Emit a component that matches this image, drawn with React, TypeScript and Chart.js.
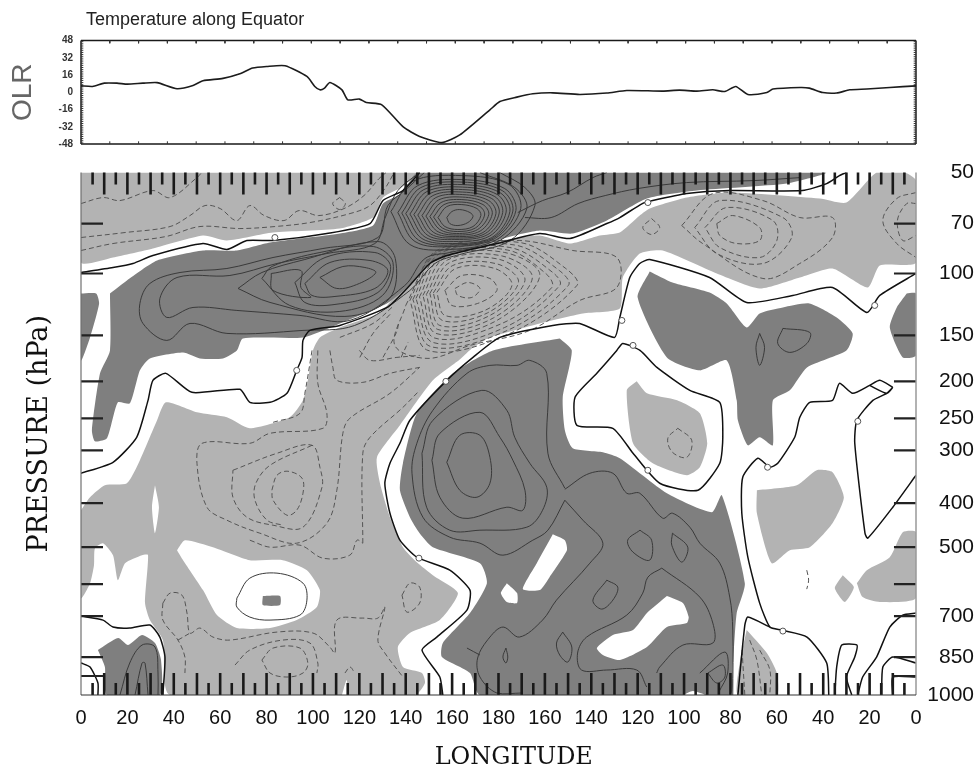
import React, { useEffect, useRef } from "react";
import { Chart, registerables } from "chart.js";

Chart.register(...registerables);

const SANS = '"Liberation Sans", Arial, sans-serif';
const SERIF = '"DejaVu Serif", "Liberation Serif", serif';

// ---- OLR panel
const olrLongitudes = [0, 5, 10, 15.5, 20, 26.7, 32.8, 41.4, 48.3, 52.6, 61.2, 68.5, 74, 80, 88, 97.4, 100.8, 103, 105, 107.3, 112.5, 115, 120, 123, 129.7, 138.8, 146, 155.6, 163.3, 176.3, 180.6, 187.9, 194.8, 203.4, 215, 226.7, 235.3, 250.8, 258, 265.5, 272.4, 277.6, 282.3, 287.5, 295.7, 298.3, 310, 314, 319.8, 325.8, 331.4, 338.8, 348.7, 360];
const olrValues = [6, 5.4, 8.5, 8.5, 7.6, 8.5, 9, 3.3, 6.3, 10.7, 12.9, 17.2, 22.5, 24, 24.7, 14.7, 5.4, 2.3, 3.9, 9.1, 2.3, -7, -6.3, -9.5, -11.6, -31.9, -41, -46.7, -39.6, -16.3, -8.6, -4.5, -1.4, -0.5, -2, -0.7, 1.7, 1.1, 2, 1.1, 2.3, 0.7, 5.4, -2, -0.2, 3, 4.5, 3.9, -0.2, -0.7, 2.3, 3, 4.5, 6];
const olrTicks = [-48, -32, -16, 0, 16, 32, 48];

// ---- axes
const lonTicks = [0, 20, 40, 60, 80, 100, 120, 140, 160, 180, 200, 220, 240, 260, 280, 300, 320, 340, 360];
const lonLabels = ["0", "20", "40", "60", "80", "100", "120", "140", "160", "180", "160", "140", "120", "100", "80", "60", "40", "20", "0"];
// pressure levels and where each sits along the (non-logarithmic) vertical axis, 0 = top
const pressureLevels = [50, 70, 100, 150, 200, 250, 300, 400, 500, 700, 850, 1000];
const pressureAxisPos = [0, 51, 101, 163, 209, 246, 278, 331, 375, 444, 485, 523];
const extraLevelPos = [412, 504];

// ---- shaded regions: [longitude, axis position, ...]
const lightMain = [0,338, 3.9,325, 10.3,313, 19.8,311, 25.4,288, 32.8,248, 36.6,230, 50,240, 62.9,245, 72.8,256, 90,245, 95.7,228, 97.8,208, 100,178, 103,165, 111.6,155, 128.9,140, 136.2,121, 143.9,98, 153.4,85, 169,73, 186.2,66, 197.8,63, 210.8,71, 223.7,63, 232.3,60, 240.9,43, 245.2,36, 261.2,25, 279.7,20, 318.5,26, 330,30, 343,0, 355,0, 360,8, 360,90, 344.4,93, 339.2,115, 324,96, 309.9,105, 292.6,116, 274.1,101, 250.8,78, 240.9,81, 233.6,105, 232.3,136, 216.4,141, 197.8,151, 176.3,165, 169,175, 163.3,187, 151.7,208, 137.5,253, 127.6,285, 128.9,311, 133.2,345, 138.8,375, 144.8,390, 151.7,403, 162.5,421, 154.7,448, 141.8,461, 136.6,475, 138.8,495, 147,501, 148.3,511, 144,523, 38.4,523, 35.3,468, 29.7,448, 27.6,431, 28.9,383, 26.3,383, 19,391, 15.9,408, 13.8,383, 9.5,371, 6,376, 5.6,393, 3.9,411, 0,426];
const lightTopLeft = [0,0, 145,0, 138.8,14, 130.2,25, 125.9,45, 111.6,56, 82.8,60, 62.9,68, 52.6,63, 31,76, 13.8,85, 0,90];
const whiteSliver = [31.9,313, 33.6,335, 31.9,361, 30.6,335];
const whiteBig = [41.4,378, 44.8,368, 56.9,375, 72.8,388, 87,388, 97.4,398, 103,418, 101.7,435, 93,448, 81.5,456, 67.2,456, 58.6,443, 52.6,418, 44,388];
const whiteSmall = [112.5,523, 114.5,508, 115,523];
const darkUpper = [12.5,121, 19.8,108, 32.8,88, 52.6,78, 67.2,78, 81.5,70, 111.6,61, 125.9,53, 130.2,31, 138.8,20, 145.2,0, 321,0, 304.3,11, 265.5,18, 244,26, 226.7,48, 212,61, 197.8,58, 183.6,65, 169,76, 150.4,91, 140.5,115, 131.9,131, 111.6,151, 95.7,165, 69.8,166, 67.2,178, 61.2,186, 51.3,186, 44,180, 29.7,186, 25.4,198, 21.1,231, 15.9,230, 11.2,266, 6,269, 4.7,258, 8.2,201, 12.5,178];
const darkLeftEdge = [0,121, 6.5,121, 7.8,131, 3.9,165, 0,188];
const darkRightEdge = [356,121, 360,121, 360,183, 354.3,185, 348.7,155, 351.7,135];
const darkLower = [206.4,166, 211.6,178, 207.7,225, 208.6,258, 212,276, 225,280, 232.3,286, 252.6,321, 272,340, 276.3,323, 286.2,411, 282.7,441, 281,495, 279.7,523, 172,523, 167.7,501, 155.6,485, 156,471, 167.7,441, 175,411, 172,391, 151.7,375, 146,361, 141.8,345, 137.5,318, 138.8,291, 144.8,241, 160.3,201, 177.6,178];
const whiteA = [203.4,362, 208.6,368, 209.5,378, 202,405, 197.8,418, 190.5,417, 196.5,391];
const whiteB = [183.6,411, 188,421, 188,431, 183.6,430, 181,421];
const whiteC = [252.6,424, 259.5,431, 262,445, 261.2,451, 252.6,455, 244,475, 232.3,488, 225,483, 222.4,476, 229.3,463, 238,458, 244,441];
const whiteD = [259.5,523, 263.8,519, 269,523];
const darkRight = [245.2,99, 255,110, 271,120, 278.4,131, 287,155, 292.6,141, 302.6,135, 314,131, 325.8,145, 332.7,161, 330,178, 313,195, 305.6,218, 298.3,228, 298.3,273, 292.6,265, 287.5,273, 283.2,248, 282.7,228, 278.4,188, 266.8,198, 252.6,185, 240,125];
const lightBlob = [239.6,209, 244,221, 257,228, 266.8,241, 270,271, 266.8,295, 261.2,303, 246.5,291, 238,271, 235.3,218];
const lightB1 = [291.4,318, 308.6,313, 317.2,298, 324,300, 328.9,325, 324,351, 314.2,375, 305.6,378, 297.8,391, 291.4,341];
const lightB2 = [328.4,403, 333.2,415, 329.3,430, 325,416];
const lightB3 = [334.5,411, 338.8,398, 348.7,385, 354.3,360, 360,360, 360,426, 344.4,430, 337,425];
const lightB4 = [287,458, 295.7,481, 300,501, 300,523, 283.2,523, 284,491];
const darkBottomLeft = [7.3,478, 16,466, 20.3,473, 26.3,463, 31.9,471, 34.5,488, 34,523, 11.2,523, 10.3,495];
const darkIsland = [78.4,424, 85.8,424, 85.8,433, 78.4,433];

// ---- zero contours
const zeroOpen = [
  [0,100, 13.8,95, 22.4,91, 31,83, 52.6,71, 62.9,77, 71.5,68, 82.8,68, 106,61, 124.6,51, 130.2,28, 138.8,18, 146,0],
  [330,0, 327,3, 321.5,11, 311,18, 279.7,18, 261.2,21, 246.5,28, 242,31, 232.3,45, 226.7,51, 210.8,66, 197.8,61, 179.3,71, 157.7,83, 150.4,91, 140.5,116, 131.9,135, 111.6,153, 98.7,158, 95.7,168, 95.3,185, 93,198, 88.8,221, 81.5,230, 72.8,230, 68.5,217, 47.8,220, 36.6,201, 31,208, 28.9,228, 24,265, 13.8,290, 0,301],
  [360,101, 344.4,123, 338.8,140, 324,115, 306.9,123, 287,130, 271,105, 245.2,87, 240.9,91, 236.6,105, 232.3,145, 230,165, 215,151, 203.4,153, 180.6,165, 169,185, 157.7,208, 141.8,248, 137.5,271, 133.2,291, 131,311, 133.2,341, 137.5,368, 144.8,385, 159,398, 167.7,418, 166.4,438, 153.4,465, 147,478, 154.7,505, 156,523],
  [350,215, 344.4,208, 340,213, 332.7,221, 327,211, 324,228, 314.2,230, 309.9,245, 307.7,265, 300.4,291, 297,295, 291.8,286, 285.3,305, 284.9,341, 287.5,385, 292.6,431, 297,455, 302,458, 313,465, 321.5,491, 322.4,523],
  [340,213, 347.4,221, 350,215, 347.4,221, 341.4,228, 334.5,248, 333.6,271, 338,361, 339.2,366, 350,335, 360,303],
  [360,441, 354.3,443, 348.7,455, 343,485, 337,505, 334.9,523],
  [325,523, 325.8,495, 328,473, 334.5,473, 333.6,485, 330,505, 332.3,523],
  [345.2,523, 345.7,495, 350,485, 360,491],
  [350,523, 350,505, 360,505],
  [283.2,523, 286.2,453, 287.5,445, 297,455],
  [0,444, 9.5,448, 13.8,455, 21,456, 29.7,453, 34,465, 36.2,485, 35.3,523],
  [0,491, 3.9,495, 7.3,511, 7.3,523],
  [0,504, 7.3,504],
];
const zeroClosed = [
  [231,178, 233.6,171, 241,178, 248.3,195, 262.5,218, 275.4,230, 276.7,265, 275.4,291, 266,318, 249.5,311, 238,281, 229.3,256, 213.8,253, 213,225, 222.4,201],
];
const zeroLabelSpots = [83.6,65, 93,198, 157.3,209, 145.7,386, 233.2,148, 238,173, 244.4,298, 296,295, 302.6,459, 334.9,249, 244.4,30, 342.2,133];

// ---- positive contours (solid)
const solidOpen = [
  [16.8,523, 21,491, 26.3,473, 31.9,475, 33.2,501, 33.2,523],
  [23.3,523, 26.3,491, 27.6,491, 28.9,523],
  [208.6,316, 201.3,281, 200.8,201, 193.5,188, 188,193, 176.3,193, 166.4,201, 151.7,238, 144.8,271, 142.7,301, 147.4,345, 159,365, 172,371, 181.9,383, 194.8,368, 201.3,358, 208.6,328],
  [208.6,328, 216.4,348, 225,371, 219.4,391, 205,428, 199,448, 189,465, 182,455, 176.3,465, 171,486, 172,505, 179.3,521, 190,521],
  [208.6,317, 219.4,301, 229.3,301, 235.3,321, 240.9,321, 250.8,346, 255,341, 262.5,355, 266.8,371, 275.4,391, 279.7,425, 281,458, 281,523],
  [250.4,396, 266.8,425, 272.4,451, 272.4,471, 259.5,473, 249.5,495, 248.2,501],
  [250.4,396, 244.4,405, 242.2,421, 235.3,443, 218,465, 214.1,481, 215.8,498, 226.7,498, 239.6,498, 243.9,515],
  [266.8,501, 277.6,480, 278.8,501, 275,520],
  [166.4,476, 172,483],
  [191.4,45, 202.7,45, 214.3,31, 226,23, 240,16, 261,10, 290,8, 310,5],
  [188.3,40, 199,28, 209.5,20, 220.7,5, 226.7,0],
  // contours that wrap the western band and the central maximum together
  [146,0, 136.6,18, 131,46, 126.7,71, 106,81, 84.5,91, 64.2,103, 41.4,105, 34,126, 37,145, 48.3,135, 67.2,138, 94.4,143, 115.9,148, 139.6,113, 148.3,86, 159,80, 180.6,68, 192.2,36, 187,15, 172,0],
  [148,0, 139.6,18, 132.3,33, 128,65, 104.3,76, 82.8,85, 62.9,96, 42.7,100, 29.7,111, 25.4,131, 26.7,151, 37,168, 47,151, 62.9,161, 95.7,158, 118,153, 141.8,118, 152.6,91, 163.3,82, 185,68, 195.7,33, 191.4,15, 180.6,0],
];
const solidClosed = [
  [67.2,426, 72.8,406, 84.5,401, 95.7,411, 97.4,428, 94.4,443, 81.5,448, 72.8,445, 67.2,435],
  [147,281, 151.7,248, 172.8,218, 183.6,238, 187,265, 193.5,291, 200.8,315, 199,338, 192.2,355, 172,358, 159,358, 149,335],
  [151.3,288, 154.7,261, 172,240, 180.6,265, 186.2,288, 191.4,318, 190.5,338, 183.6,335, 164.6,346, 154.7,325],
  [157.7,290, 163.3,263, 172,263, 176.3,285, 176.3,311, 170.7,325, 163.3,318],
  [241,358, 246,368, 245.2,388, 238,380, 235.7,368],
  [255,361, 261.6,375, 259,390, 254.7,373],
  [226.7,408, 231.4,415, 229.3,428, 224.5,437, 220.7,428],
  [207.7,460, 211.6,475, 209.9,490, 206.4,483, 205,471],
  [183.2,476, 184,485, 183.2,491, 181.9,485],
  [270.2,501, 276.7,493, 277.6,505, 274.1,511],
  [292.6,161, 294.7,175, 292.6,193, 291,175],
  [302.6,156, 314.2,160, 313,171, 305.6,180, 300.4,171],
  // tight rings above the equatorial convergence
  [157.7,45, 159.9,39, 163.3,37, 167.7,40, 169,44, 166.8,50, 162.5,53, 159,51],
  [153.9,45, 157.7,34, 164.2,32, 170.7,36, 172.4,43, 169,54, 162.5,57, 156.9,54],
  [152,44.5, 156.5,32, 164.2,29.5, 172,34, 174,42.5, 170,55.5, 162.2,59, 155.8,55.5],
  [150.4,44, 155.2,30, 164.2,27, 173.3,32, 175.8,42, 171,57, 162,61, 154.7,57],
  [148.7,43.5, 154.1,27.5, 164.4,24.5, 174.5,30, 177.3,41.5, 172.1,58.5, 161.8,62.5, 153.4,58.5],
  [147,43, 153,25, 164.6,22, 175.8,28, 178.9,41, 173.3,60, 161.6,64, 152.1,60],
  [145.2,42.5, 151.7,23, 164.6,19.5, 177.1,26, 180.3,40.5, 174.3,61, 161.4,65.5, 150.8,61.5],
  [143.5,42, 150.4,21, 164.6,17, 178.4,24, 181.8,40, 175.4,62, 161.2,67, 149.6,63],
  [141.8,41.5, 149.1,19, 164.6,14.5, 179.5,22, 183.3,39.5, 176.2,63.5, 160.7,69, 148.3,64.5],
  [140,41, 147.8,17, 164.6,12, 180.6,20, 184.9,39, 177.1,65, 160.3,71, 147,66],
  [138.3,40.5, 146.5,15, 164.4,9.5, 181.6,18, 186.2,38.5, 177.7,65.5, 160,72.5, 145.5,67.5],
  [136.6,40, 145.2,13, 164.2,7, 182.7,16, 187.5,38, 178.4,66, 159.9,74, 144,69],
  [133.6,39, 142.7,9, 164.2,3, 184.5,12, 189.6,36, 179.3,67, 159,77, 141.8,72],
  // warm core in the western band
  [103,105, 112.9,94, 122.4,95, 127.1,100, 120,111, 110.3,116],
  [96.5,111, 107.3,90, 124.6,88, 132.3,98, 126.7,116, 109.5,124, 99.6,123],
  [92.2,110, 105.2,85, 126.7,80, 133.5,94, 128,120, 109.5,132, 96.5,130],
  [82,101, 94.8,98, 94.8,115, 99,125, 82.8,118],
  [78,106, 82.3,94, 103,80, 126,74, 134.5,90, 130,123, 111.6,139, 90,133],
  [67.7,116, 78,100, 96.5,87, 128,69, 135.5,86, 133,126, 113.8,144, 81.5,130],
];

// ---- negative contours (dashed)
const dashedOpen = [
  [0,78, 13.8,71, 36.6,64, 51.3,54, 68.5,56, 83.6,54, 98.7,50, 116,41, 124.6,33, 131,16, 135,0],
  [0,65, 19,60, 38.4,54, 47,43, 53.5,33, 60,36, 67.2,48, 72.8,33, 79,43, 87.5,48, 94,38, 102.5,43, 113.4,36, 122,23, 128.5,6, 131.5,0],
  [0,31, 9.5,25, 16.8,28, 31,18, 38.4,25, 50,5, 52,0],
  [102.1,178, 102.1,211, 106,241, 104.3,256, 81.5,261, 72.8,271, 52.2,271, 50,291, 54.3,335, 62.9,348, 77.1,361, 93,371, 106,351, 110.3,318, 112.9,261, 115.9,246, 133.2,221, 146,195],
  [99.6,273, 81.5,293, 75.4,311, 75,328, 80.2,348, 87,353],
  [107.3,178, 108.6,195, 110.3,208, 121.5,210, 133.2,201, 146,195],
  [120,178, 124.6,188, 136.2,185, 146,183],
  [121.5,371, 121.5,281, 124.6,265, 138.8,235, 146,218],
  [99.6,178, 96.5,221, 94.4,241, 82.8,250],
  [72.8,368, 81.5,375, 94.4,373, 104.3,386, 115.9,383, 119,368, 121.5,371],
  [35.3,431, 38.4,421, 43.5,423, 45.7,441, 47,461, 51.3,456, 56.9,465, 64.2,468, 84.5,460, 100,461, 107.3,475, 109.5,481, 110.3,448, 121.5,446, 128,446, 131,435, 128,468, 131,481, 138.8,505],
  [35.3,431, 35.3,448, 41.8,468, 44.8,485, 44.8,501],
  [41.8,468, 47,461],
  [66.4,493, 72.8,478, 87,468, 98.7,471, 102.1,491, 101.7,501],
  [113.8,501, 116,495, 118,501],
  [111.6,165, 125.9,151, 135,133],
  [120.2,185, 125.9,161, 134,140],
  [130.2,185, 136,160, 137,150],
  [138,185, 141,170],
  [360,20, 351.7,26, 345.7,48, 351.7,71, 360,85],
  [360,31, 356,31, 352,48, 354.3,68, 360,63],
  [312.9,398, 313.7,408, 312.9,417],
  [288.3,468, 291.4,488, 293.5,523],
  [292.6,478, 297,498, 297,523],
  [285,478, 286.2,523],
];
const dashedClosed = [
  [65.5,298, 84.5,281, 99.6,273, 103,295, 103.9,315, 95.7,355, 82.8,353, 71.5,345, 65.5,325],
  [82.3,318, 84.5,303, 89.2,299, 95.3,306, 95.7,321, 93,338, 88.8,343, 82.8,328],
  [78,488, 82.8,476, 94.4,476, 97.8,491, 95.7,501, 88.8,505, 81.5,501],
  [138.4,423, 141.8,411, 146,415, 146,431, 140.5,440],
  [111.5,25, 114,31, 111.5,37, 108.5,31],
  [257.3,256, 263.3,268, 261.2,285, 255,280, 253,266],
  [274.1,51, 281,43, 292.6,55, 292.6,68, 282.7,71, 275.4,63],
  [269,55, 278.4,35, 298.3,48, 300,68, 292.6,85, 275.4,75],
  [264.6,55, 275.4,28, 302.6,45, 306.4,65, 294,91, 274.1,81],
  [259,53, 272.4,21, 294,28, 309.9,45, 324,45, 324,65, 309.9,91, 294,106, 268,71],
  [246,46, 249.5,55, 246,62, 242.2,55],
  [161.2,116, 166.8,110, 172,116, 168.5,125, 162.5,123],
  [156.9,118, 164.2,103, 176.3,106, 179.3,118, 171,131, 159.9,133],
  [153.4,120, 161.6,96, 178.4,96, 185.8,113, 174.1,138, 156.9,143],
  [151.9,120.5, 160.3,93, 179.5,91.5, 188.6,110, 175.2,140.5, 155.8,148],
  [150.4,121, 159,90, 180.6,87, 191.4,108, 176.3,143, 154.7,153],
  [148.9,122, 158,87.5, 181.6,83.5, 194.6,105.5, 177.8,145.5, 153.8,157],
  [147.4,123, 156.9,85, 182.7,80, 197.8,103, 179.3,148, 153,161],
  [145.9,124.5, 155.8,83, 183.8,77.5, 200.6,101.5, 203,115, 181,151.5, 152.3,165.5],
  [144.4,126, 154.7,81, 184.9,75, 203.4,100, 206.4,113, 182.7,155, 151.7,170],
  [143.1,127, 154,79.5, 187,72.5, 206.2,98, 210.1,113, 183.8,158, 150.6,174],
  [141.8,128, 153.4,78, 189.2,70, 209,96, 213.8,113, 184.9,161, 149.6,178],
  [140,133, 151.3,83, 163.3,74, 189.2,68, 212,78, 231,85, 231,115, 215,128, 193.5,158, 167.7,173, 149.6,186, 135.3,173],
];

const LIGHT = "#b3b3b3";
const DARK = "#7f7f7f";
const WHITE = "#ffffff";

type Pt = { x: number; y: number };
const toPts = (flat: number[], close = false): Pt[] => {
  const pts: Pt[] = [];
  for (let i = 0; i < flat.length; i += 2) pts.push({ x: flat[i], y: flat[i + 1] });
  if (close) pts.push({ x: flat[0], y: flat[1] });
  return pts;
};

const fillDs = (flat: number[], color: string) => ({
  type: "scatter", data: toPts(flat, true), showLine: true, pointRadius: 0, borderWidth: 0, tension: 0.2, polyColor: color,
});
const lineDs = (flat: number[], close: boolean, color: string, width: number, dash: number[], tension = 0.35) => ({
  type: "scatter", data: toPts(flat, close), showLine: true, pointRadius: 0, borderColor: color, borderWidth: width, borderDash: dash, tension,
});

// inward tick marks, made as broken line series through the scales
const tickSeries = (segments: number[][], color: string, width: number) => {
  const pts: Pt[] = [];
  segments.forEach(([x1, y1, x2, y2]) => {
    pts.push({ x: x1, y: y1 }, { x: x2, y: y2 }, { x: NaN, y: NaN });
  });
  return { type: "scatter", data: pts, showLine: true, pointRadius: 0, borderColor: color, borderWidth: width, tension: 0, clip: 4 };
};

const polygonFill = {
  id: "polygonFill",
  beforeDatasetDraw(chart: any, args: any) {
    const ds = chart.data.datasets[args.index];
    if (!ds.polyColor) return;
    const { ctx, chartArea: a } = chart;
    ctx.save();
    ctx.beginPath();
    ctx.rect(a.left, a.top, a.right - a.left, a.bottom - a.top);
    ctx.clip();
    ctx.beginPath();
    args.meta.dataset.path(ctx);
    ctx.closePath();
    ctx.fillStyle = ds.polyColor;
    ctx.fill();
    ctx.restore();
  },
};

const fixedSize = (size: number) => (scale: any) => {
  if (scale.isHorizontal()) scale.height = size;
  else scale.width = size;
};

function buildMainDatasets() {
  const layers: any[] = [
    fillDs(lightMain, LIGHT), fillDs(lightTopLeft, LIGHT),
    fillDs(whiteSliver, WHITE), fillDs(whiteBig, WHITE), fillDs(whiteSmall, WHITE),
    fillDs(darkUpper, DARK), fillDs(darkLeftEdge, DARK), fillDs(darkRightEdge, DARK),
    fillDs(darkLower, DARK), fillDs(whiteA, WHITE), fillDs(whiteB, WHITE), fillDs(whiteC, WHITE), fillDs(whiteD, WHITE),
    fillDs(darkRight, DARK), fillDs(lightBlob, LIGHT), fillDs(lightB1, LIGHT), fillDs(lightB2, LIGHT), fillDs(lightB3, LIGHT), fillDs(lightB4, LIGHT),
    fillDs(darkBottomLeft, DARK), fillDs(darkIsland, DARK),
  ];
  dashedOpen.forEach((c) => layers.push(lineDs(c, false, "#555555", 1, [5, 3])));
  dashedClosed.forEach((c) => layers.push(lineDs(c, true, "#555555", 1, [5, 3])));
  solidOpen.forEach((c) => layers.push(lineDs(c, false, "#3a3a3a", 1, [])));
  solidClosed.forEach((c) => layers.push(lineDs(c, true, "#3a3a3a", 1, [])));
  zeroOpen.forEach((c) => layers.push(lineDs(c, false, "#111111", 1.5, [], 0.2)));
  zeroClosed.forEach((c) => layers.push(lineDs(c, true, "#111111", 1.5, [], 0.2)));
  layers.push({
    type: "scatter", data: toPts(zeroLabelSpots), pointRadius: 3, pointBackgroundColor: "#ffffff", pointBorderColor: "#555555", pointBorderWidth: 1, showLine: false,
  });

  const tall: number[][] = [];
  const short: number[][] = [];
  for (let lon = 5; lon < 360; lon += 5) {
    const isTall = lon % 10 === 0;
    const len = isTall ? 22 : 12;
    (isTall ? tall : short).push([lon, 0, lon, len], [lon, 523, lon, 523 - len]);
  }
  const side: number[][] = [];
  [...pressureAxisPos.slice(1, -1), ...extraLevelPos].forEach((p) => {
    side.push([0, p, 9.5, p], [360, p, 350.5, p]);
  });
  layers.push(tickSeries([...tall, ...short], "#1a1a1a", 2.6));
  layers.push(tickSeries(side, "#222222", 2.2));
  layers.push(tickSeries([[0, 0, 0, 523]], "#707070", 1.2));
  layers.push(tickSeries([[360, 0, 360, 523]], "#999999", 1.5));
  layers.push(tickSeries([[0, 523, 360, 523]], "#333333", 1.2));
  return layers.reverse();
}

function buildOlrDatasets() {
  const ticks: number[][] = [];
  for (let i = 1; i < 29; i++) {
    const lon = (i * 360) / 29;
    ticks.push([lon, 48, lon, 45.5], [lon, -48, lon, -45.5]);
  }
  const edge: number[][] = [];
  for (let v = -47; v < 48; v += 2) {
    edge.push([0, v, 1, v], [360, v, 359, v]);
  }
  return [
    { type: "scatter", data: olrLongitudes.map((x, i) => ({ x, y: olrValues[i] })), showLine: true, pointRadius: 0, borderColor: "#1c1c1c", borderWidth: 1.6, tension: 0.2 },
    tickSeries(ticks, "#333333", 1),
    tickSeries(edge, "#333333", 1),
    tickSeries([[0, 48, 360, 48], [360, 48, 360, -48], [360, -48, 0, -48], [0, -48, 0, 48]], "#1a1a1a", 1.5),
  ];
}

export default function App() {
  const topRef = useRef<HTMLCanvasElement>(null);
  const mainRef = useRef<HTMLCanvasElement>(null);

  useEffect(() => {
    const top = new Chart(topRef.current as any, {
      type: "scatter",
      data: { datasets: buildOlrDatasets() as any },
      options: {
        animation: false, responsive: false, events: [],
        layout: { padding: { left: 0, right: 60, top: 0, bottom: 0 } },
        plugins: {
          legend: { display: false }, tooltip: { enabled: false },
          title: {
            display: true, text: "\u00a0Temperature along Equator", align: "start", fullSize: false, color: "#222222",
            font: { family: SANS, size: 18, weight: "normal" }, padding: { top: 9, bottom: 10 },
          },
        },
        scales: {
          x: { type: "linear", min: 0, max: 360, afterFit: fixedSize(16), grid: { display: false }, border: { display: false }, ticks: { display: false } },
          y: {
            type: "linear", min: -48, max: 48, afterFit: fixedSize(81), grid: { display: false, drawTicks: false }, border: { display: false },
            afterBuildTicks: (s: any) => { s.ticks = olrTicks.map((value) => ({ value })); },
            ticks: { font: { family: SANS, size: 10, weight: "bold" }, color: "#333333", padding: 8, autoSkip: false },
            title: { display: true, text: "OLR", color: "#666666", font: { family: SANS, size: 28, weight: "normal" }, padding: { top: 6, bottom: 0 } },
          },
        },
      } as any,
    });

    const main = new Chart(mainRef.current as any, {
      type: "scatter",
      data: { datasets: buildMainDatasets() as any },
      plugins: [polygonFill as any],
      options: {
        animation: false, responsive: false, events: [],
        layout: { padding: { top: 12, left: 0, right: 2, bottom: 0 } },
        plugins: { legend: { display: false }, tooltip: { enabled: false }, title: { display: false } },
        scales: {
          x: {
            type: "linear", min: 0, max: 360, afterFit: fixedSize(77),
            grid: { display: false, drawTicks: false }, border: { display: false },
            afterBuildTicks: (s: any) => { s.ticks = lonTicks.map((value) => ({ value })); },
            ticks: {
              autoSkip: false, maxRotation: 0, padding: 11, color: "#111111", font: { family: SANS, size: 20 },
              callback: (v: number) => lonLabels[lonTicks.indexOf(v)],
            },
            title: { display: true, text: "\u00a0\u00a0\u00a0\u00a0LONGITUDE", color: "#111111", font: { family: SERIF, size: 24 }, padding: { top: 0, bottom: 0 } },
          },
          y: {
            type: "linear", reverse: true, min: 0, max: 523, position: "left", afterFit: fixedSize(81),
            grid: { display: false, drawTicks: false }, border: { display: false }, ticks: { display: false },
            title: { display: true, text: "PRESSURE (hPa)", color: "#111111", font: { family: SERIF, size: 27 }, padding: { top: 24, bottom: 0 } },
          },
          yRight: {
            type: "linear", reverse: true, min: 0, max: 523, position: "right", afterFit: fixedSize(58),
            grid: { display: false, drawTicks: false }, border: { display: false },
            afterBuildTicks: (s: any) => { s.ticks = pressureAxisPos.map((value) => ({ value })); },
            ticks: {
              autoSkip: false, crossAlign: "far", padding: 0, color: "#111111", font: { family: SANS, size: 21 },
              callback: (v: number) => String(pressureLevels[pressureAxisPos.indexOf(v)]),
            },
          },
        },
      } as any,
    });

    return () => {
      top.destroy();
      main.destroy();
    };
  }, []);

  return (
    <div>
      <canvas ref={topRef} width={976} height={160} style={{ position: "absolute", left: 0, top: 0 }} />
      <canvas ref={mainRef} width={976} height={612} style={{ position: "absolute", left: 0, top: 160 }} />
    </div>
  );
}
